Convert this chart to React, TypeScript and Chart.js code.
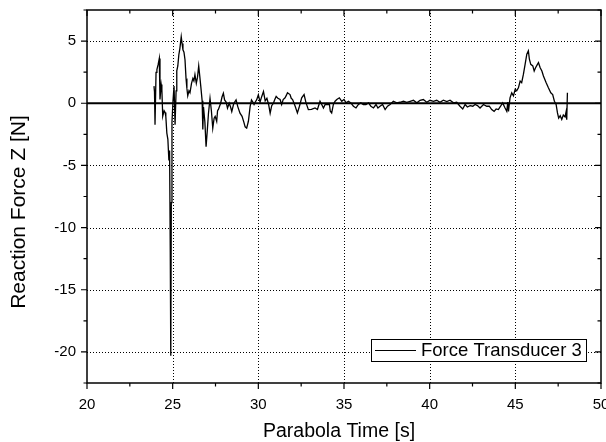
import React, { useEffect, useRef } from "react";
import { Chart, registerables } from "chart.js";

Chart.register(...registerables);

// ---- data ----
const times: number[] = [
  23.91, 23.94, 23.97, 24.03, 24.08, 24.15, 24.22, 24.26, 24.33, 24.37, 24.42, 24.5, 24.56, 24.6, 24.66, 24.72,
  24.78, 24.82, 24.86, 24.89, 24.92, 24.96, 25.02, 25.08, 25.14, 25.2, 25.24, 25.3, 25.36, 25.42, 25.5, 25.55,
  25.6, 25.66, 25.72, 25.78, 25.83, 25.88, 25.95, 26.01, 26.1, 26.18, 26.24, 26.3, 26.38, 26.45, 26.52, 26.58,
  26.64, 26.72, 26.76, 26.8, 26.88, 26.95, 27.02, 27.09, 27.18, 27.26, 27.34, 27.42, 27.48, 27.57, 27.62, 27.67,
  27.8, 27.88, 27.96, 28.03, 28.12, 28.2, 28.3, 28.38, 28.45, 28.55, 28.62, 28.7, 28.8, 28.93, 29.05, 29.15,
  29.23, 29.32, 29.42, 29.52, 29.6, 29.68, 29.75, 29.82, 29.9, 30.0, 30.1, 30.2, 30.3, 30.4, 30.5, 30.6,
  30.69, 30.78, 30.88, 30.96, 31.04, 31.14, 31.27, 31.36, 31.45, 31.56, 31.64, 31.7, 31.85, 31.92, 32.0, 32.15,
  32.28, 32.4, 32.53, 32.67, 32.78, 32.92, 33.1, 33.31, 33.45, 33.6, 33.7, 33.8, 33.9, 34.0, 34.15, 34.2,
  34.28, 34.38, 34.48, 34.58, 34.73, 34.87, 35.0, 35.12, 35.26, 35.4, 35.55, 35.7, 35.84, 35.98, 36.13, 36.28,
  36.43, 36.57, 36.72, 36.87, 36.98, 37.1, 37.25, 37.4, 37.54, 37.69, 37.88, 38.08, 38.27, 38.47, 38.66, 38.86,
  39.05, 39.25, 39.44, 39.63, 39.83, 40.02, 40.22, 40.41, 40.6, 40.8, 41.0, 41.19, 41.39, 41.58, 41.77, 41.93,
  42.07, 42.2, 42.36, 42.52, 42.65, 42.79, 42.94, 43.14, 43.33, 43.48, 43.62, 43.76, 43.88, 44.01, 44.14, 44.26,
  44.4, 44.5, 44.56, 44.6, 44.69, 44.79, 44.89, 44.99, 45.08, 45.18, 45.28, 45.37, 45.47, 45.57, 45.67, 45.76,
  45.82, 45.9, 46.02, 46.1, 46.18, 46.29, 46.35, 46.45, 46.55, 46.64, 46.8, 46.93, 47.07, 47.18, 47.28, 47.38,
  47.46, 47.53, 47.62, 47.71, 47.8, 47.9, 47.96, 48.0, 48.04,
];

const force: number[] = [
  1.38, 0.9, -1.72, 2.48, 2.7, 3.1, 3.6, 0.3, 1.5, 1.1, -1.05, -0.6, -0.75, -1.05, -2.4, -2.9,
  -4.6, -3.8, -12, -20.3, -8, -1.5, 0.2, 1.38, -1.72, 1.0, 2.6, 3.0, 3.9, 4.4, 5.35, 4.8,
  4.3, 4.1, 3.5, 2.0, 1.2, 0.6, 1.0, 0.84, 1.6, 2.0, 1.8, 2.3, 1.6, 2.1, 3.0, 2.2,
  1.38, 0.2, -2.1, -0.3, -1.5, -3.5, -2.2, -0.8, 0.4, -0.6, -2.0, -1.2, -1.05, -1.45, -0.6, -0.5,
  0, 0.5, 0.8, 0.27, 0.1, -0.4, 0, -0.3, -0.67, -0.1, 0.1, 0.27, -0.27, -0.8, -1.05, -1.5,
  -1.9, -2.0, -1.45, -0.27, 0.27, 0.1, -0.1, 0.1, 0.27, 0.67, 0.1, 0.55, 0.94, 0.2, 0.4, -0.1,
  -0.8, -0.2, 0, 0.3, 0.55, 0.4, 0.3, -0.1, 0.3, 0.44, 0.65, 0.84, 0.7, 0.4, 0.3, -0.24,
  -0.78, -0.24, 0.44, 0.7, 0.05, -0.51, -0.5, -0.38, -0.5, 0.16, -0.1, -0.38, -0.1, -0.1, -0.1, -0.65,
  -0.78, -0.1, 0.16, 0.3, 0.44, 0.16, 0.3, 0.03, 0.16, 0.03, -0.24, -0.38, -0.1, 0.03, -0.1, -0.1,
  0.03, -0.24, -0.38, -0.1, -0.38, -0.24, -0.1, -0.51, -0.24, -0.1, 0.16, 0.03, 0.08, 0.16, 0.08, 0.16,
  0.24, 0.03, 0.24, 0.3, 0.08, 0.24, 0.16, 0.24, 0.08, 0.24, 0.13, 0.24, 0.03, 0.08, -0.24, -0.46,
  -0.1, -0.3, -0.19, -0.24, -0.1, -0.19, -0.38, -0.1, -0.24, -0.24, -0.51, -0.65, -0.46, -0.51, -0.24, 0.03,
  -0.38, -0.65, 0.1, -0.65, 0.43, 0.84, 0.6, 1.11, 1.0, 1.24, 1.78, 1.65, 2.32, 3.13, 3.95, 4.22,
  3.54, 3.13, 3.0, 2.59, 2.85, 3.13, 3.27, 2.85, 2.59, 2.19, 1.65, 1.24, 0.84, 0.7, 0.16, -0.1,
  -0.78, -1.19, -1.0, -1.3, -0.95, -1.1, -0.7, -1.32, 0.84,
];

const xTickValues: number[] = [20, 25, 30, 35, 40, 45, 50];
const yTickValues: number[] = [-20, -15, -10, -5, 0, 5];
const xRange: number[] = [20, 50];
const yRange: number[] = [-22.5, 7.5];
const minorStep = 2.5;

const xTitle = "Parabola Time [s]";
const yTitle = "Reaction Force Z [N]";
const seriesLabel = "Force Transducer 3";

const FONT = '"Liberation Sans", Arial, Helvetica, sans-serif';

export default function App() {
  const ref = useRef<HTMLCanvasElement | null>(null);

  useEffect(() => {
    const canvas = ref.current;
    if (!canvas) return;

    const decorPlugin = {
      id: "decor",
      beforeDatasetsDraw(chart: any) {
        const { ctx, chartArea: a, scales } = chart;
        const xs = scales.x;
        const ys = scales.y;
        ctx.save();
        ctx.strokeStyle = "#000";
        ctx.lineWidth = 1;
        ctx.setLineDash([1, 2]);
        xTickValues.forEach((v) => {
          if (v <= xRange[0] || v >= xRange[1]) return;
          const px = Math.round(xs.getPixelForValue(v)) + 0.5;
          ctx.beginPath();
          ctx.moveTo(px, a.top);
          ctx.lineTo(px, a.bottom);
          ctx.stroke();
        });
        yTickValues.forEach((v) => {
          if (v === 0) return;
          const py = Math.round(ys.getPixelForValue(v)) + 0.5;
          ctx.beginPath();
          ctx.moveTo(a.left, py);
          ctx.lineTo(a.right, py);
          ctx.stroke();
        });
        ctx.setLineDash([]);
        const y0 = ys.getPixelForValue(0);
        ctx.lineWidth = 2;
        ctx.beginPath();
        ctx.moveTo(a.left, y0);
        ctx.lineTo(a.right, y0);
        ctx.stroke();
        ctx.restore();
      },
      afterDraw(chart: any) {
        const { ctx, chartArea: a, scales } = chart;
        const xs = scales.x;
        const ys = scales.y;
        ctx.save();
        ctx.strokeStyle = "#000";
        ctx.lineWidth = 1.5;
        ctx.strokeRect(a.left, a.top, a.right - a.left, a.bottom - a.top);
        ctx.lineWidth = 1.2;
        const majLen = 6;
        const minLen = 3.5;
        for (let v = xRange[0]; v <= xRange[1] + 1e-9; v += minorStep) {
          const isMaj = Math.abs(v / 5 - Math.round(v / 5)) < 1e-6;
          const L = isMaj ? majLen : minLen;
          const px = xs.getPixelForValue(v);
          ctx.beginPath();
          ctx.moveTo(px, a.bottom);
          ctx.lineTo(px, a.bottom + L);
          ctx.moveTo(px, a.top);
          ctx.lineTo(px, a.top + L);
          ctx.stroke();
        }
        for (let v = yRange[0]; v <= yRange[1] + 1e-9; v += minorStep) {
          const isMaj = Math.abs(v / 5 - Math.round(v / 5)) < 1e-6;
          const L = isMaj ? majLen : minLen;
          const py = ys.getPixelForValue(v);
          ctx.beginPath();
          ctx.moveTo(a.left, py);
          ctx.lineTo(a.left - L, py);
          ctx.moveTo(a.right, py);
          ctx.lineTo(a.right - L, py);
          ctx.stroke();
        }
        // legend
        const lx = 371, ly = 339, lw = 215, lh = 22;
        ctx.fillStyle = "#fff";
        ctx.fillRect(lx, ly, lw, lh);
        ctx.lineWidth = 1;
        ctx.strokeRect(lx + 0.5, ly + 0.5, lw, lh);
        ctx.lineWidth = 1.2;
        ctx.beginPath();
        ctx.moveTo(lx + 4, ly + lh / 2 + 0.5);
        ctx.lineTo(lx + 45, ly + lh / 2 + 0.5);
        ctx.stroke();
        ctx.fillStyle = "#000";
        ctx.font = `18.5px ${FONT}`;
        ctx.textBaseline = "middle";
        ctx.textAlign = "left";
        ctx.fillText(seriesLabel, lx + 50, ly + lh / 2 + 1);
        // axis titles
        ctx.textBaseline = "alphabetic";
        ctx.textAlign = "center";
        ctx.font = `19.5px ${FONT}`;
        ctx.fillText(xTitle, (a.left + a.right) / 2 - 5, 437);
        ctx.translate(25, 212);
        ctx.rotate(-Math.PI / 2);
        ctx.font = `21px ${FONT}`;
        ctx.fillText(yTitle, 0, 0);
        ctx.restore();
      },
    };

    const chart = new Chart(canvas, {
      type: "line",
      data: {
        datasets: [
          {
            label: seriesLabel,
            data: times.map((t, i) => ({ x: t, y: force[i] })),
            borderColor: "#000",
            borderWidth: 1.3,
            pointRadius: 0,
            tension: 0,
            fill: false,
          },
        ],
      },
      options: {
        responsive: false,
        animation: false,
        devicePixelRatio: 1,
        layout: { padding: { top: 10, right: 5, left: 0, bottom: 0 } },
        plugins: { legend: { display: false }, tooltip: { enabled: false } },
        scales: {
          x: {
            type: "linear",
            min: xRange[0],
            max: xRange[1],
            grid: { display: false, drawTicks: false },
            border: { display: false },
            ticks: { color: "#000", font: { family: FONT, size: 15 }, padding: 13, maxRotation: 0 },
            afterBuildTicks: (s: any) => {
              s.ticks = xTickValues.map((v) => ({ value: v }));
            },
            afterFit: (s: any) => {
              s.height = 59;
              s.paddingLeft = 0;
              s.paddingRight = 0;
            },
          },
          y: {
            type: "linear",
            min: yRange[0],
            max: yRange[1],
            grid: { display: false, drawTicks: false },
            border: { display: false },
            ticks: { color: "#000", font: { family: FONT, size: 15 }, padding: 11 },
            afterBuildTicks: (s: any) => {
              s.ticks = yTickValues.map((v) => ({ value: v }));
            },
            afterFit: (s: any) => {
              s.width = 87;
              s.paddingTop = 0;
              s.paddingBottom = 0;
            },
          },
        },
      },
      plugins: [decorPlugin],
    });

    return () => chart.destroy();
  }, []);

  return (
    <div style={{ position: "fixed", left: 0, top: 0, width: 606, height: 442, background: "#fff" }}>
      <canvas ref={ref} width={606} height={442} style={{ display: "block" }} />
    </div>
  );
}
